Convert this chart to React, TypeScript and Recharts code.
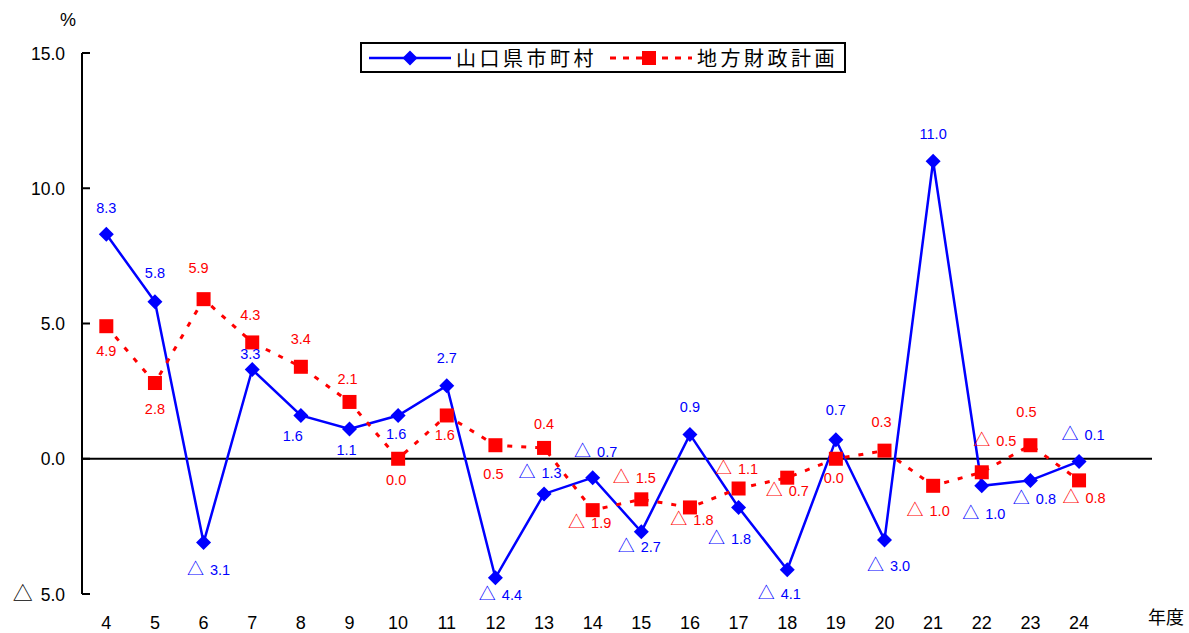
import React from 'react';
import { LineChart, Line, XAxis, YAxis, ReferenceLine, Legend, Customized } from 'recharts';

const years = [4, 5, 6, 7, 8, 9, 10, 11, 12, 13, 14, 15, 16, 17, 18, 19, 20, 21, 22, 23, 24];
const yamaguchi = [8.3, 5.8, -3.1, 3.3, 1.6, 1.1, 1.6, 2.7, -4.4, -1.3, -0.7, -2.7, 0.9, -1.8, -4.1, 0.7, -3.0, 11.0, -1.0, -0.8, -0.1];
const chihou = [4.9, 2.8, 5.9, 4.3, 3.4, 2.1, 0.0, 1.6, 0.5, 0.4, -1.9, -1.5, -1.8, -1.1, -0.7, 0.0, 0.3, -1.0, -0.5, 0.5, -0.8];
const yTicks = [-5, 0, 5, 10, 15];
const seriesNames = ['山口県市町村', '地方財政計画'];

// label placement offsets (relative to each point)
const blueLabelDy = [-26, -29, 27, -15, 21, 21, 19, -28, 17, -21, -26, 15, -27, 32, 24, -30, 26, -27, 28, 19, -26];
const blueLabelDx = [0, 0, 5, -2, -8, -3, -2, 0, 5, -4, 3, -2, 0, -9, -8, 0, 4, 0, 2, 4, 4];
const redLabelDy = [25, 26, -31, -27, -28, -23, 21, 20, 29, -24, 13, -21, 13, -20, 13, 19, -29, 25, -31, -33, 18];
const redLabelDx = [0, 0, -5, -2, 0, -2, -2, -2, -2, 0, -3, -7, 2, -2, 0, -2, -3, -5, 13, -4, 5];

const data = years.map((y, i) => ({ year: y, a: yamaguchi[i], b: chihou[i] }));

const FONT = '"Noto Sans CJK JP", "Noto Sans", sans-serif';
const NUMFONT = '"Liberation Sans", Arial, "Noto Sans CJK JP", sans-serif';
const BLUE = '#0000FF';
const RED = '#FF0000';

// renders a value as tspans: negatives get a (larger) △ mark instead of a minus sign
const valueSpans = (v: number, triSize: number, gap: number) =>
  v < 0
    ? [
        <tspan key="t" fontFamily={FONT} fontSize={triSize}>△</tspan>,
        <tspan key="n" dx={gap}>{Math.abs(v).toFixed(1)}</tspan>,
      ]
    : v.toFixed(1);

const Diamond = (props: any) => {
  const { cx, cy, index } = props;
  if (cx == null || cy == null) return null;
  const r = 7.5;
  return (
    <polygon
      key={`d-${index}`}
      points={`${cx},${cy - r} ${cx + r},${cy} ${cx},${cy + r} ${cx - r},${cy}`}
      fill={BLUE}
      stroke="none"
    />
  );
};

const Square = (props: any) => {
  const { cx, cy, index } = props;
  if (cx == null || cy == null) return null;
  const s = 14;
  return <rect key={`s-${index}`} x={cx - s / 2} y={cy - s / 2} width={s} height={s} fill={RED} />;
};

const makeLabel = (color: string, dxArr: number[], dyArr: number[]) => (props: any) => {
  const { x, y, value, index } = props;
  if (x == null || y == null) return null;
  return (
    <text
      key={`l-${color}-${index}`}
      x={x + dxArr[index]}
      y={y + dyArr[index] + 5}
      textAnchor="middle"
      fill={color}
      fontSize={14.5}
      fontFamily={NUMFONT}
    >
      {valueSpans(value, 17, 6)}
    </text>
  );
};

const YTick = (props: any) => {
  const { x, y, payload } = props;
  return (
    <g>
      <line x1={x} x2={x + 8} y1={y} y2={y} stroke="#000" strokeWidth={2} />
      <text x={x - 17} y={y + 6.5} textAnchor="end" fontSize={17.5} fontFamily={NUMFONT} fill="#000">
        {valueSpans(payload.value, 20, 8)}
      </text>
    </g>
  );
};

const renderLegend = () => (
  <div
    style={{
      position: 'absolute',
      left: 360,
      top: 42,
      width: 486,
      height: 31,
      border: '2px solid #000',
      boxSizing: 'border-box',
      background: '#fff',
      fontFamily: FONT,
      fontSize: 20,
      color: '#000',
    }}
  >
    <svg style={{ position: 'absolute', left: 5, top: 4 }} width={86} height={20}>
      <line x1={2} x2={84} y1={10} y2={10} stroke={BLUE} strokeWidth={2.5} />
      <polygon points="43,2.5 50.5,10 43,17.5 35.5,10" fill={BLUE} />
    </svg>
    <span style={{ position: 'absolute', left: 94, top: 0, lineHeight: '27px', letterSpacing: 3.5, whiteSpace: 'nowrap' }}>
      {seriesNames[0]}
    </span>
    <svg style={{ position: 'absolute', left: 248, top: 4 }} width={84} height={20}>
      <line x1={0} x2={82} y1={10} y2={10} stroke={RED} strokeWidth={3} strokeDasharray="6 7" />
      <rect x={32} y={3} width={14} height={14} fill={RED} />
    </svg>
    <span style={{ position: 'absolute', left: 335, top: 0, lineHeight: '27px', letterSpacing: 3.5, whiteSpace: 'nowrap' }}>
      {seriesNames[1]}
    </span>
  </div>
);

const Extras = () => (
  <g>
    <text x={68} y={20} dy="0.35em" textAnchor="middle" fontSize={18} fontFamily={NUMFONT} fill="#000">
      %
    </text>
    <text x={1166} y={618} dy="0.35em" textAnchor="middle" fontSize={18} fontFamily={FONT} fill="#000">
      年度
    </text>
  </g>
);

export default function App() {
  return (
    <div style={{ position: 'absolute', left: 0, top: 0, width: 1189, height: 633, background: '#fff' }}>
      <LineChart width={1189} height={633} data={data} margin={{ top: 53, right: 37, bottom: 0, left: 0 }}>
        <XAxis
          dataKey="year"
          type="number"
          domain={[3.5, 25.5]}
          ticks={years}
          axisLine={false}
          tickLine={false}
          height={39}
          tickMargin={16}
          interval={0}
          tick={{ fontSize: 18, fontFamily: NUMFONT, fill: '#000' }}
        />
        <YAxis
          width={82}
          domain={[-5, 15]}
          ticks={yTicks}
          interval={0}
          axisLine={{ stroke: '#000', strokeWidth: 2 }}
          tickLine={false}
          tickSize={0}
          tickMargin={0}
          tick={<YTick />}
        />
        <ReferenceLine y={0} stroke="#000" strokeWidth={2} />
        <Line
          dataKey="a"
          name={seriesNames[0]}
          stroke={BLUE}
          strokeWidth={2.5}
          dot={<Diamond />}
          activeDot={false}
          isAnimationActive={false}
          label={makeLabel(BLUE, blueLabelDx, blueLabelDy)}
        />
        <Line
          dataKey="b"
          name={seriesNames[1]}
          stroke={RED}
          strokeWidth={3}
          strokeDasharray="5 9"
          dot={<Square />}
          activeDot={false}
          isAnimationActive={false}
          label={makeLabel(RED, redLabelDx, redLabelDy)}
        />
        <Legend
          layout="vertical"
          verticalAlign="middle"
          align="center"
          content={renderLegend}
          wrapperStyle={{ left: 0, top: 0, width: 0, height: 0 }}
        />
        <Customized component={<Extras />} />
      </LineChart>
    </div>
  );
}
